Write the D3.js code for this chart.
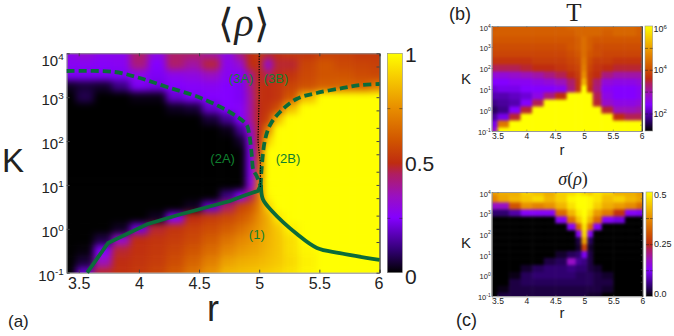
<!DOCTYPE html>
<html><head><meta charset="utf-8">
<script src="https://cdn.jsdelivr.net/npm/d3@7"></script>
<style>html,body{margin:0;padding:0;background:#fff}svg{display:block}text{font-family:"Liberation Sans",Arial,sans-serif;fill:#222}</style>
</head><body><svg id="c" width="674" height="336"></svg>
<script>
// ---------- data ----------
const mainR=[3.4,3.55,3.7,3.85,4,4.15,4.3,4.45,4.6,4.75,4.85,4.93,5,5.07,5.15,5.25,5.4,5.55,5.7,5.85,6];
const mainK=[1e4,5623,3162,1778,1000,562,316,178,100,56.2,31.6,17.8,10,5.62,3.16,1.78,1,.562,.316,.178,.1];
const rhoValues=[
[.28,.32,.28,.28,.44,.30,.44,.44,.38,.30,.42,.50,.54,.48,.50,.53,.52,.55,.55,.53,.53],
[.27,.27,.26,.27,.42,.25,.44,.38,.47,.28,.33,.50,.52,.30,.48,.48,.56,.60,.57,.56,.55],
[.24,.24,.24,.24,.28,.24,.28,.30,.34,.27,.25,.40,.50,.45,.49,.52,.57,.60,.60,.58,.57],
[.03,.05,.04,.12,.24,.22,.25,.26,.27,.25,.24,.40,.52,.50,.52,.56,.59,.63,.64,.64,.70],
[0,.07,0,0,.02,.02,.20,.24,.25,.25,.24,.38,.52,.50,.52,.60,.85,1,1,1,1],
[0,0,0,0,0,0,.03,.05,.20,.25,.26,.38,.50,.52,.58,.85,1,1,1,1,1],
[0,0,0,0,0,0,0,0,.05,.14,.25,.38,.50,.55,.85,1,1,1,1,1,1],
[0,0,0,0,0,0,0,0,0,.02,.14,.32,.50,.72,1,1,1,1,1,1,1],
[0,0,0,0,0,0,0,0,0,0,.04,.28,.50,.90,1,1,1,1,1,1,1],
[0,0,0,0,0,0,0,0,0,0,0,.25,.55,1,1,1,1,1,1,1,1],
[0,0,0,0,0,0,0,0,0,0,0,.25,.60,1,1,1,1,1,1,1,1],
[0,0,0,0,0,0,0,0,0,0,0,.25,.65,1,1,1,1,1,1,1,1],
[0,0,0,0,0,0,0,0,0,0,0,.28,.70,1,1,1,1,1,1,1,1],
[0,0,0,0,0,0,0,0,0,.12,.25,.45,.70,.98,1,1,1,1,1,1,1],
[0,0,0,0,0,0,0,.03,.20,.45,.56,.60,.72,.90,1,1,1,1,1,1,1],
[0,0,0,0,0,.03,.25,.50,.54,.57,.61,.66,.75,.82,.95,1,1,1,1,1,1],
[0,0,0,.03,.22,.48,.52,.55,.58,.62,.67,.72,.77,.82,.88,.97,1,1,1,1,1],
[0,0,.06,.32,.50,.52,.54,.57,.62,.68,.73,.76,.79,.83,.87,.93,1,1,1,1,1],
[0,.01,.25,.48,.51,.53,.56,.60,.66,.73,.77,.79,.81,.84,.87,.93,.98,1,1,1,1],
[0,.05,.35,.50,.52,.54,.58,.64,.71,.79,.82,.83,.84,.86,.88,.92,.97,1,1,1,1],
[0,.20,.48,.51,.53,.56,.61,.68,.76,.84,.86,.87,.88,.89,.91,.94,.98,1,1,1,1]];

const sideR=[3.4,3.6,3.8,4,4.2,4.4,4.6,4.8,4.9,5,5.1,5.2,5.4,5.6,5.8,6];
const sideK=[1e4,4642,2154,1000,464,215,100,46.4,21.5,10,4.64,2.15,1,.464,.215,.1];
const logTValues=[
[4.1,4.2,4.2,4.2,4.2,4.2,4.2,4.3,4.3,4.3,4.3,4.3,4.3,4.3,4.3,4.2],
[4.2,4.2,4.2,4.2,4.2,4.2,4.2,4.2,4.3,4.3,4.3,4.3,4.2,4.3,4.3,4.2],
[4.1,4.1,4.1,4.1,4.1,4.1,4.1,4.1,4.2,4.4,4.2,4.1,4.1,4.1,4.1,4.1],
[4.0,4.0,4.0,4.0,4.0,4.0,4.0,4.1,4.2,4.4,4.2,4.0,4.0,4.0,4.0,4.0],
[3.9,3.9,3.9,3.9,3.9,3.9,3.9,4.0,4.1,4.4,4.1,4.0,3.9,3.9,3.9,3.9],
[3.7,3.7,3.7,3.7,3.8,3.8,3.8,3.9,4.0,4.5,4.0,3.8,3.8,3.7,3.7,3.7],
[3.4,3.4,3.4,3.5,3.6,3.6,3.7,3.8,3.9,4.6,3.9,3.7,3.6,3.5,3.5,3.5],
[2.7,2.7,2.8,2.9,3.0,3.2,3.4,3.6,3.8,4.8,3.8,3.6,3.2,3.0,3.0,3.0],
[2.4,2.4,2.5,2.5,2.6,2.7,2.9,3.3,3.7,5.2,3.8,3.3,2.7,2.6,2.6,2.7],
[2.2,2.3,2.3,2.4,2.4,2.4,2.5,3.2,3.7,6,3.7,3.2,2.5,2.4,2.4,2.5],
[2.0,2.0,2.1,2.2,2.6,3.2,3.6,6,6,6,6,3.4,2.6,2.4,2.4,2.5],
[1.8,1.9,2.0,2.4,3.4,6,6,6,6,6,6,3.5,2.8,2.6,2.6,2.7],
[1.6,1.8,2.4,3.5,6,6,6,6,6,6,6,6,3.5,2.9,2.9,3.0],
[1.9,2.3,3.5,6,6,6,6,6,6,6,6,6,6,3.6,3.4,3.4],
[2.3,4.5,6,6,6,6,6,6,6,6,6,6,6,6,6,6],
[2.8,6,6,6,6,6,6,6,6,6,6,6,6,6,6,6]];
const sigmaValues=[
[.39,.41,.41,.45,.43,.41,.45,.46,.48,.46,.44,.47,.45,.41,.41,.39],
[.36,.40,.42,.44,.46,.42,.45,.49,.50,.50,.49,.47,.43,.45,.42,.40],
[.17,.17,.30,.38,.36,.38,.42,.47,.50,.50,.49,.45,.41,.39,.37,.33],
[.05,.05,.08,.13,.13,.13,.33,.42,.48,.50,.46,.39,.35,.26,.13,.12],
[0,0,0,0,0,0,.13,.34,.44,.49,.42,.33,.13,.11,0,0],
[0,0,0,0,0,0,0,.13,.32,.47,.33,.13,0,0,0,0],
[0,0,0,0,0,0,0,0,.13,.46,.13,0,0,0,0,0],
[0,0,0,0,0,0,0,0,.03,.40,.04,0,0,0,0,0],
[0,0,0,0,0,0,0,0,.02,.28,.02,0,0,0,0,0],
[0,0,0,0,0,0,.02,.04,.05,.12,.03,0,0,0,0,0],
[0,0,0,0,0,.03,.04,.17,.07,.06,.03,0,0,0,0,0],
[0,0,0,.02,.04,.05,.05,.06,.05,.05,.03,.02,0,0,0,0],
[0,0,.01,.04,.05,.05,.05,.05,.04,.04,.04,.03,.02,0,0,0],
[0,0,.03,.04,.04,.04,.04,.04,.04,.04,.04,.03,.03,0,0,0],
[0,.01,.03,.03,.03,.03,.03,.03,.03,.03,.03,.03,.02,0,0,0],
[0,.03,.03,.03,.03,.03,.03,.03,.03,.03,.02,.02,0,0,0,0]];

const rTicks=[3.5,4,4.5,5,5.5,6];
const rTickLabels=["3.5","4","4.5","5","5.5","6"];
const kTicks=[1e4,1e3,1e2,1e1,1,.1];
const kExponents=["4","3","2","1","0","-1"];
const rhoBarTicks=[0,.5,1];
const rhoBarLabels=["0","0.5","1"];
const tBarTicks=[2,4,6];
const tBarExponents=["2","4","6"];
const sigmaBarTicks=[0,.25,.5];
const sigmaBarLabels=["0.0","0.25","0.5"];

// transition curves: r, K
const line1LeftR=[3.57,3.744,4.068,4.326,4.757,4.865,4.99,5.015];
const line1LeftK=[.1,.475,1.27,2.07,4.3,5.6,7.3,10];
const line1RightR=[5.015,5.03,5.106,5.314,5.48,5.67,6];
const line1RightK=[10,4.8,2.55,.76,.366,.28,.195];
const line2AR=[3.4,3.8,4.007,4.233,4.51,4.78,4.896,4.918,4.938,4.951,4.979,5.012];
const line2AK=[3950,3750,2735,1706,973,415,232,137,48,22,16,9.5];
const line2BR=[5.012,5.02,5.048,5.09,5.173,5.31,5.478,5.697,5.84,6];
const line2BK=[9.5,24,105,232,460,910,1245,1620,1890,1995];
const dottedR=[5,5,4.99,5.01,5.01];
const dottedK=[1e4,1000,100,30,9];

const regionNames=["(3A)","(3B)","(2A)","(2B)","(1)"];
const regionR=[4.85,5.14,4.696,5.24,4.98];
const regionK=[2090,2090,31,31,.58];

// colour map
const cmapAt=[0,.1,.25,.35,.45,.5,.6,.75,.9,1];
const cmapCol=["#000000","#300070","#8400ff","#9a10c0","#b01e60","#bf2c10","#d05400","#e88e00","#f8d000","#ffff00"];
const cmap=d3.scaleLinear().domain(cmapAt).range(cmapCol).clamp(true);

// ---------- drawing ----------
const svg=d3.select("#c"), defs=svg.append("defs");
const grad=defs.append("linearGradient").attr("id","bar").attr("x1",0).attr("x2",0).attr("y1",1).attr("y2",0);
cmapAt.forEach((a,i)=>grad.append("stop").attr("offset",a).attr("stop-color",cmapCol[i]));

function panel(o){
  const x=d3.scaleLinear().domain([3.4,6]).range([o.l,o.r]);
  const y=d3.scaleLog().domain([.1,1e4]).range([o.b,o.t]);
  const val=d3.scaleLinear().domain(o.dom).range([0,1]);
  const clipId="clip"+o.id, blurId="blur"+o.id;
  defs.append("clipPath").attr("id",clipId).append("rect").attr("x",o.l).attr("y",o.t).attr("width",o.r-o.l).attr("height",o.b-o.t);
  const fl=defs.append("filter").attr("id",blurId).attr("filterUnits","userSpaceOnUse").attr("color-interpolation-filters","sRGB")
    .attr("x",o.l-30).attr("y",o.t-30).attr("width",o.r-o.l+60).attr("height",o.b-o.t+60);
  fl.append("feGaussianBlur").attr("stdDeviation",o.blur);
  const g=svg.append("g").attr("clip-path",`url(#${clipId})`).append("g").attr("filter",`url(#${blurId})`);
  const ext=20;
  const xe=o.rs.map((r,i)=>[i?(x(o.rs[i-1])+x(r))/2:x(r)-ext, i<o.rs.length-1?(x(o.rs[i+1])+x(r))/2:x(r)+ext]);
  const ye=o.ks.map((k,j)=>[j?(y(o.ks[j-1])+y(k))/2:y(k)-ext, j<o.ks.length-1?(y(o.ks[j+1])+y(k))/2:y(k)+ext]);
  const cells=o.z.flatMap((row,j)=>row.map((v,i)=>({v,i,j})));
  g.selectAll("rect").data(cells).join("rect")
    .attr("x",d=>xe[d.i][0]).attr("width",d=>xe[d.i][1]-xe[d.i][0]+.5)
    .attr("y",d=>ye[d.j][0]).attr("height",d=>ye[d.j][1]-ye[d.j][0]+.5)
    .attr("fill",d=>cmap(val(d.v)));

  const stroke=o.frame;
  function styleAxis(a){a.selectAll("path.domain").attr("stroke",stroke).attr("stroke-width",1);a.selectAll("line").attr("stroke",o.tickCol).attr("stroke-width",o.tickW);}
  const bottom=svg.append("g").attr("transform",`translate(0,${o.b})`)
    .call(d3.axisBottom(x).tickValues(rTicks).tickFormat((d,i)=>rTickLabels[i]).tickSize(-o.tick).tickPadding(o.xPad).tickSizeOuter(0));
  bottom.selectAll("text").attr("font-size",o.fs).attr("fill","#222").attr("dx",(d,i)=>i==0?o.xFirst:i==rTicks.length-1?o.xLast:0);
  styleAxis(bottom);
  const top=svg.append("g").attr("transform",`translate(0,${o.t})`)
    .call(d3.axisTop(x).tickValues(rTicks).tickFormat("").tickSize(-o.tick).tickSizeOuter(0));
  styleAxis(top);
  const left=svg.append("g").attr("transform",`translate(${o.l},0)`)
    .call(d3.axisLeft(y).tickValues(kTicks).tickFormat("").tickSize(-o.tick).tickSizeOuter(0));
  styleAxis(left);
  const right=svg.append("g").attr("transform",`translate(${o.r},0)`)
    .call(d3.axisRight(y).tickValues(kTicks.flatMap(k=>k<1e4?[k,k*2,k*5]:[k])).tickFormat("").tickSize(-o.tick).tickSizeOuter(0));
  styleAxis(right);
  right.select("path.domain").attr("stroke","#000");
  // K tick labels
  const ks=svg.append("g").selectAll("text").data(kTicks).join("text")
    .attr("x",o.l-o.yPad).attr("y",(d,i)=>y(d)+(i==0?o.yTop:o.yOff)).attr("text-anchor","end").attr("font-size",o.fs-1);
  ks.append("tspan").text("10");
  ks.append("tspan").attr("dy",-o.fs*.38).attr("font-size",(o.fs-1)*.66).text((d,i)=>kExponents[i]);

  // colour bar
  const by=d3.scaleLinear().domain(o.dom).range([o.b,o.t]);
  svg.append("rect").attr("x",o.bl).attr("y",o.t).attr("width",o.br-o.bl).attr("height",o.b-o.t).attr("fill","url(#bar)").attr("stroke",stroke).attr("stroke-width",.6);
  const ba=svg.append("g").attr("transform",`translate(${o.bl},0)`)
    .call(d3.axisRight(by).tickValues(o.barMinor).tickFormat("").tickSize(o.br-o.bl).tickSizeOuter(0));
  ba.select("path.domain").remove();
  ba.selectAll("line").attr("stroke","#222").attr("stroke-width",.5).attr("stroke-dasharray",`3,${Math.max(o.br-o.bl-6,1)},3`);
  return {x,y,by};
}

const mainP=panel({id:"a",l:66.7,r:379.5,t:53.3,b:272.7,z:rhoValues,rs:mainR,ks:mainK,dom:[0,1],blur:3.6,
  frame:"#888",tickCol:"#444",tickW:1,tick:3,fs:16,xPad:5,yPad:3,yOff:8,yTop:13,xFirst:0,xLast:-1,bl:387.3,br:402.3,barMinor:[.25,.75]});
const pb=panel({id:"b",l:491.7,r:641.7,t:26,b:131,z:logTValues,rs:sideR,ks:sideK,dom:[1.2,6],blur:1.8,
  frame:"#999",tickCol:"#666",tickW:.5,tick:1.5,fs:8.5,xPad:2,yPad:1,yOff:4,yTop:5,xFirst:0,xLast:0,bl:645,br:652.7,barMinor:[2,3,4,5]});
const pc=panel({id:"c",l:491.7,r:642.3,t:192,b:296.3,z:sigmaValues,rs:sideR,ks:sideK,dom:[0,.5],blur:1.6,
  frame:"#999",tickCol:"#666",tickW:.5,tick:1.5,fs:8.5,xPad:2,yPad:1,yOff:4,yTop:5,xFirst:0,xLast:0,bl:646,br:652.7,barMinor:[.125,.25,.375]});

// colour bar labels
svg.append("g").selectAll("text").data(rhoBarTicks).join("text").attr("x",405).attr("y",(d,i)=>mainP.by(d)+[11,8,11][i]-(i==2?2:0)).attr("font-size",21).text((d,i)=>rhoBarLabels[i]);
const tl=svg.append("g").selectAll("text").data(tBarTicks).join("text").attr("x",653.5).attr("y",(d,i)=>pb.by(d)+[3,3,6][i]).attr("font-size",9);
tl.append("tspan").text("10");tl.append("tspan").attr("dy",-3.5).attr("font-size",6).text((d,i)=>tBarExponents[i]);
svg.append("g").selectAll("text").data(sigmaBarTicks).join("text").attr("x",654).attr("y",(d,i)=>pc.by(d)+[1,3,6][i]).attr("font-size",9).text((d,i)=>sigmaBarLabels[i]);

// transition lines
const lineGreen="#0b6b3a";
const mk=(rs,ks,curve)=>d3.line().x(d=>mainP.x(d[0])).y(d=>mainP.y(d[1])).curve(curve)(d3.zip(rs,ks));
const curves=svg.append("g").attr("fill","none").attr("stroke",lineGreen).attr("stroke-width",3.8);
curves.append("path").attr("d",mk(line1LeftR,line1LeftK,d3.curveLinear));
curves.append("path").attr("d",mk(line1RightR,line1RightK,d3.curveCatmullRom));
curves.append("path").attr("d",mk(line2AR,line2AK,d3.curveCatmullRom)).attr("stroke-dasharray","8,4");
curves.append("path").attr("d",mk(line2BR,line2BK,d3.curveCatmullRom)).attr("stroke-dasharray","8,4");
svg.append("path").attr("d",mk(dottedR,dottedK,d3.curveLinear)).attr("fill","none").attr("stroke","#000").attr("stroke-width",1.2).attr("stroke-dasharray","1.3,1.3");

svg.append("g").selectAll("text").data(regionNames).join("text")
  .attr("x",(d,i)=>mainP.x(regionR[i])).attr("y",(d,i)=>mainP.y(regionK[i])).attr("text-anchor","middle")
  .attr("font-size",13).style("fill","#10802f").text(d=>d);

// axis titles and captions
const caption=(t,x,y,fs,anchor)=>svg.append("text").attr("x",x).attr("y",y).attr("font-size",fs).attr("text-anchor",anchor||"start").text(t);
caption("K",2,172,33);caption("r",213,321,36,"middle");caption("(a)",8,327,17);
caption("(b)",449,20,18);caption("K",466,84,15,"middle");caption("r",562,155,15,"middle");
caption("(c)",456,326,18);caption("K",466,248,15,"middle");caption("r",562,318,15,"middle");

const serif='"Liberation Serif",serif', brk='"DejaVu Sans",sans-serif';
const t1=svg.append("text").attr("x",244).attr("y",37).attr("text-anchor","middle").attr("font-size",40);
t1.append("tspan").style("font-family",brk).attr("font-weight",200).text("\u27E8");
t1.append("tspan").style("font-family",serif).attr("font-style","italic").attr("dy",-1).text("\u03C1");
t1.append("tspan").style("font-family",brk).attr("font-weight",200).attr("dy",1).text("\u27E9");
svg.append("text").attr("x",574).attr("y",21).attr("text-anchor","middle").attr("font-size",25).style("font-family",serif).text("T");
const t3=svg.append("text").attr("x",573).attr("y",185).attr("text-anchor","middle").attr("font-size",18).style("font-family",serif);
t3.append("tspan").attr("font-style","italic").text("\u03C3");t3.append("tspan").text("(");
t3.append("tspan").attr("font-style","italic").text("\u03C1");t3.append("tspan").text(")");
</script></body></html>
